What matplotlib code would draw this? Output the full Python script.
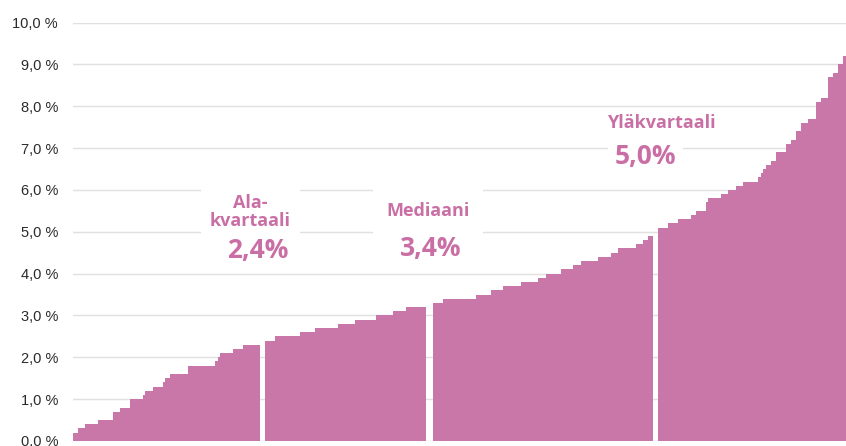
import numpy as np
import matplotlib
matplotlib.use("Agg")
import matplotlib.pyplot as plt

# sorted values (%): value + number of bars
q1_values = [0.2, 0.3, 0.4, 0.5, 0.7, 0.8, 1.0, 1.1, 1.2, 1.3, 1.4, 1.5, 1.6, 1.8,
             1.9, 2.0, 2.1, 2.2, 2.3]
q1_counts = [2, 3, 5, 6, 3, 4, 5, 1, 3, 4, 1, 2, 7, 11, 1, 1, 5, 4, 7]
q2_values = [2.4, 2.5, 2.6, 2.7, 2.8, 2.9, 3.0, 3.1, 3.2]
q2_counts = [4, 10, 6, 9, 7, 8, 7, 5, 8]
q3_values = [3.3, 3.4, 3.5, 3.6, 3.7, 3.8, 3.9, 4.0, 4.1, 4.2, 4.3, 4.4, 4.5, 4.6,
             4.7, 4.8, 4.9]
q3_counts = [4, 13, 6, 5, 7, 7, 3, 6, 5, 3, 7, 5, 3, 7, 3, 2, 2]
q4_values = [5.1, 5.2, 5.3, 5.4, 5.5, 5.7, 5.8, 5.9, 6.0, 6.1, 6.2, 6.3, 6.4, 6.5,
             6.6, 6.7, 6.9, 7.1, 7.2, 7.4, 7.6, 7.7, 8.1, 8.2, 8.7, 8.8, 9.0, 9.2]
q4_counts = [4, 4, 5, 2, 4, 1, 5, 3, 3, 3, 6, 1, 1, 1, 2, 2, 4, 2, 2, 2, 3, 3, 2, 3,
             2, 2, 2, 1]

lower_q, median, upper_q = 2.4, 3.4, 5.0
y_ticks = np.arange(0, 11)

BAR = "#c976a8"
TEXT = "#c96fa5"

groups = [(q1_values, q1_counts), (q2_values, q2_counts),
          (q3_values, q3_counts), (q4_values, q4_counts)]
gaps = [2, 3, 2, 0]  # empty slots after each quartile group

fig = plt.figure(figsize=(8.46, 4.46), dpi=100)
ax = fig.add_axes([72.7 / 846, 5 / 446, (846 - 72.7) / 846, (441 - 22.5) / 446])

start = 0
ends = []
for (vals, cnts), gap in zip(groups, gaps):
    h = np.repeat(vals, cnts)
    x = start + np.arange(len(h))
    ax.bar(x, h, width=1.0, align="edge", color=BAR, linewidth=0, zorder=2)
    start += len(h)
    ends.append(start)
    start += gap

ax.set_xlim(0, start)
ax.set_ylim(0, 10)
ax.set_xticks([])
ax.set_yticks(y_ticks)
ax.set_yticklabels([f"{v:.1f} %".replace(".", ",") for v in y_ticks],
                   family="Liberation Sans", fontsize=10.5, color="#2a2a2a")
ax.tick_params(axis="y", length=0, pad=10.5)
ax.yaxis.grid(True, color="#e0e0e0", lw=1.0)
ax.set_axisbelow(True)
for s in ax.spines.values():
    s.set_visible(False)

fam = ["Open Sans", "DejaVu Sans"]
small = dict(family=fam, fontsize=13, fontweight="bold", color=TEXT,
             ha="center", va="center", zorder=5, linespacing=1.05)
big = dict(family=fam, fontsize=19, fontweight="bold", color=TEXT,
           ha="center", va="center", zorder=5)

ax.text(ends[0] - 4, 5.47, "Ala-\nkvartaali",
        bbox=dict(boxstyle="square,pad=0.5", fc="white", ec="none"), **small)
ax.text(ends[0] - 1, 4.55, f"{lower_q:.1f}%".replace(".", ","),
        bbox=dict(boxstyle="square,pad=0.15", fc="white", ec="none"), **big)
ax.text(ends[1] + 1, 5.49, "Mediaani",
        bbox=dict(boxstyle="square,pad=0.75", fc="white", ec="none"), **small)
ax.text(ends[1] + 2, 4.59, f"{median:.1f}%".replace(".", ","),
        bbox=dict(boxstyle="square,pad=0.15", fc="white", ec="none"), **big)
ax.text(ends[2] + 3, 7.6, "Yläkvartaali",
        bbox=dict(boxstyle="square,pad=0.2", fc="white", ec="none"), **small)
ax.text(ends[2] - 3, 6.8, f"{upper_q:.1f}%".replace(".", ","),
        bbox=dict(boxstyle="square,pad=0.25", fc="white", ec="none"), **big)

fig.savefig("out.png", dpi=100)
